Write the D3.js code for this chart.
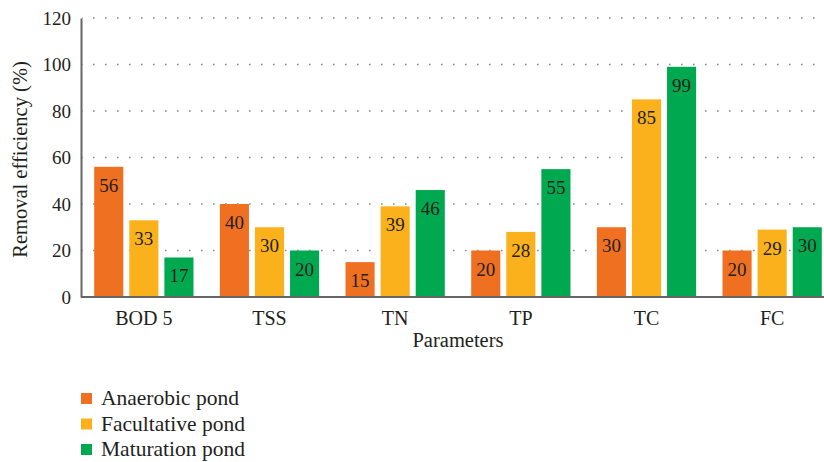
<!DOCTYPE html>
<html>
<head>
<meta charset="utf-8">
<script src="https://cdn.jsdelivr.net/npm/d3@7"></script>
<style>
  html, body { margin: 0; padding: 0; background: #fff; }
  svg { display: block; }
</style>
</head>
<body>
<div id="chart"></div>
<script>
const parameters = ["BOD 5", "TSS", "TN", "TP", "TC", "FC"];
const ponds = ["Anaerobic pond", "Facultative pond", "Maturation pond"];
const anaerobic = [56, 40, 15, 20, 30, 20];
const facultative = [33, 30, 39, 28, 85, 29];
const maturation = [17, 20, 46, 55, 99, 30];
const yTicks = [0, 20, 40, 60, 80, 100, 120];
const colors = ["#f07022", "#fbb11b", "#00a94f"];

const FONT = "Liberation Serif";
const width = 824, height = 462;
const margin = { top: 18, left: 81, bottom: 165 };
const plotBottom = height - margin.bottom;

const series = [anaerobic, facultative, maturation];
const rows = parameters.map((p, i) => ({ name: p, values: series.map((s) => s[i]) }));

// every text gets its own font attributes
const styleText = (sel, size = 19) => sel.attr("font-family", FONT).attr("font-size", size).attr("fill", "#231f20");

const svg = d3.select("#chart").append("svg")
  .attr("width", width).attr("height", height);

const x0 = d3.scaleBand().domain(parameters)
  .range([margin.left, 835]).paddingInner(0.21).paddingOuter(0.105);
const x1 = d3.scaleBand().domain(d3.range(3))
  .range([0, x0.bandwidth()]).paddingInner(0.171);
const y = d3.scaleLinear().domain([0, 120]).range([plotBottom, margin.top]);

// dotted gridlines
svg.append("g")
  .selectAll("line")
  .data(yTicks.filter((t) => t > 0))
  .join("line")
  .attr("x1", margin.left + 1).attr("x2", width)
  .attr("y1", (d) => y(d)).attr("y2", (d) => y(d))
  .attr("stroke", "#8a8a8a").attr("stroke-width", 1.6)
  .attr("stroke-dasharray", "1.6,10.4").attr("stroke-dashoffset", -11);

// bars
const groups = svg.append("g").selectAll("g")
  .data(rows).join("g")
  .attr("transform", (d) => `translate(${x0(d.name)},0)`);

groups.selectAll("rect")
  .data((d) => d.values.map((v, i) => ({ v, i })))
  .join("rect")
  .attr("x", (d) => x1(d.i))
  .attr("width", x1.bandwidth())
  .attr("y", (d) => y(d.v))
  .attr("height", (d) => plotBottom - y(d.v))
  .attr("fill", (d) => colors[d.i]);

groups.selectAll("text")
  .data((d) => d.values.map((v, i) => ({ v, i })))
  .join("text")
  .attr("x", (d) => x1(d.i) + x1.bandwidth() / 2)
  .attr("y", (d) => y(d.v) + 25)
  .attr("text-anchor", "middle")
  .call(styleText)
  .text((d) => d.v);

// axes
const yAxis = svg.append("g")
  .attr("transform", `translate(${margin.left},0)`)
  .call(d3.axisLeft(y).tickValues(yTicks).tickSize(0).tickPadding(10));
yAxis.select(".domain").attr("stroke", "#666").attr("stroke-width", 2);
yAxis.selectAll("text").call(styleText);

const xAxis = svg.append("g")
  .attr("transform", `translate(0,${plotBottom})`)
  .call(d3.axisBottom(x0).tickSize(0).tickPadding(14));
xAxis.select(".domain").attr("d", `M${margin.left},0H${width}`)
  .attr("stroke", "#666").attr("stroke-width", 2);
xAxis.selectAll("text").call(styleText, 20);

// axis titles
svg.append("text")
  .attr("transform", `translate(27,${(margin.top + plotBottom) / 2 + 2}) rotate(-90)`)
  .attr("text-anchor", "middle")
  .call(styleText, 20.5)
  .text("Removal efficiency (%)");

svg.append("text")
  .attr("x", (margin.left + 835) / 2).attr("y", 347)
  .attr("text-anchor", "middle")
  .call(styleText, 20.5)
  .text("Parameters");

// legend
const legend = svg.append("g").selectAll("g")
  .data(ponds).join("g")
  .attr("transform", (d, i) => `translate(81,${393 + i * 25.5})`);
legend.append("rect").attr("width", 11).attr("height", 11)
  .attr("fill", (d, i) => colors[i]);
legend.append("text").attr("x", 20).attr("y", 12)
  .call(styleText, 21.5)
  .text((d) => d);
</script>
</body>
</html>
